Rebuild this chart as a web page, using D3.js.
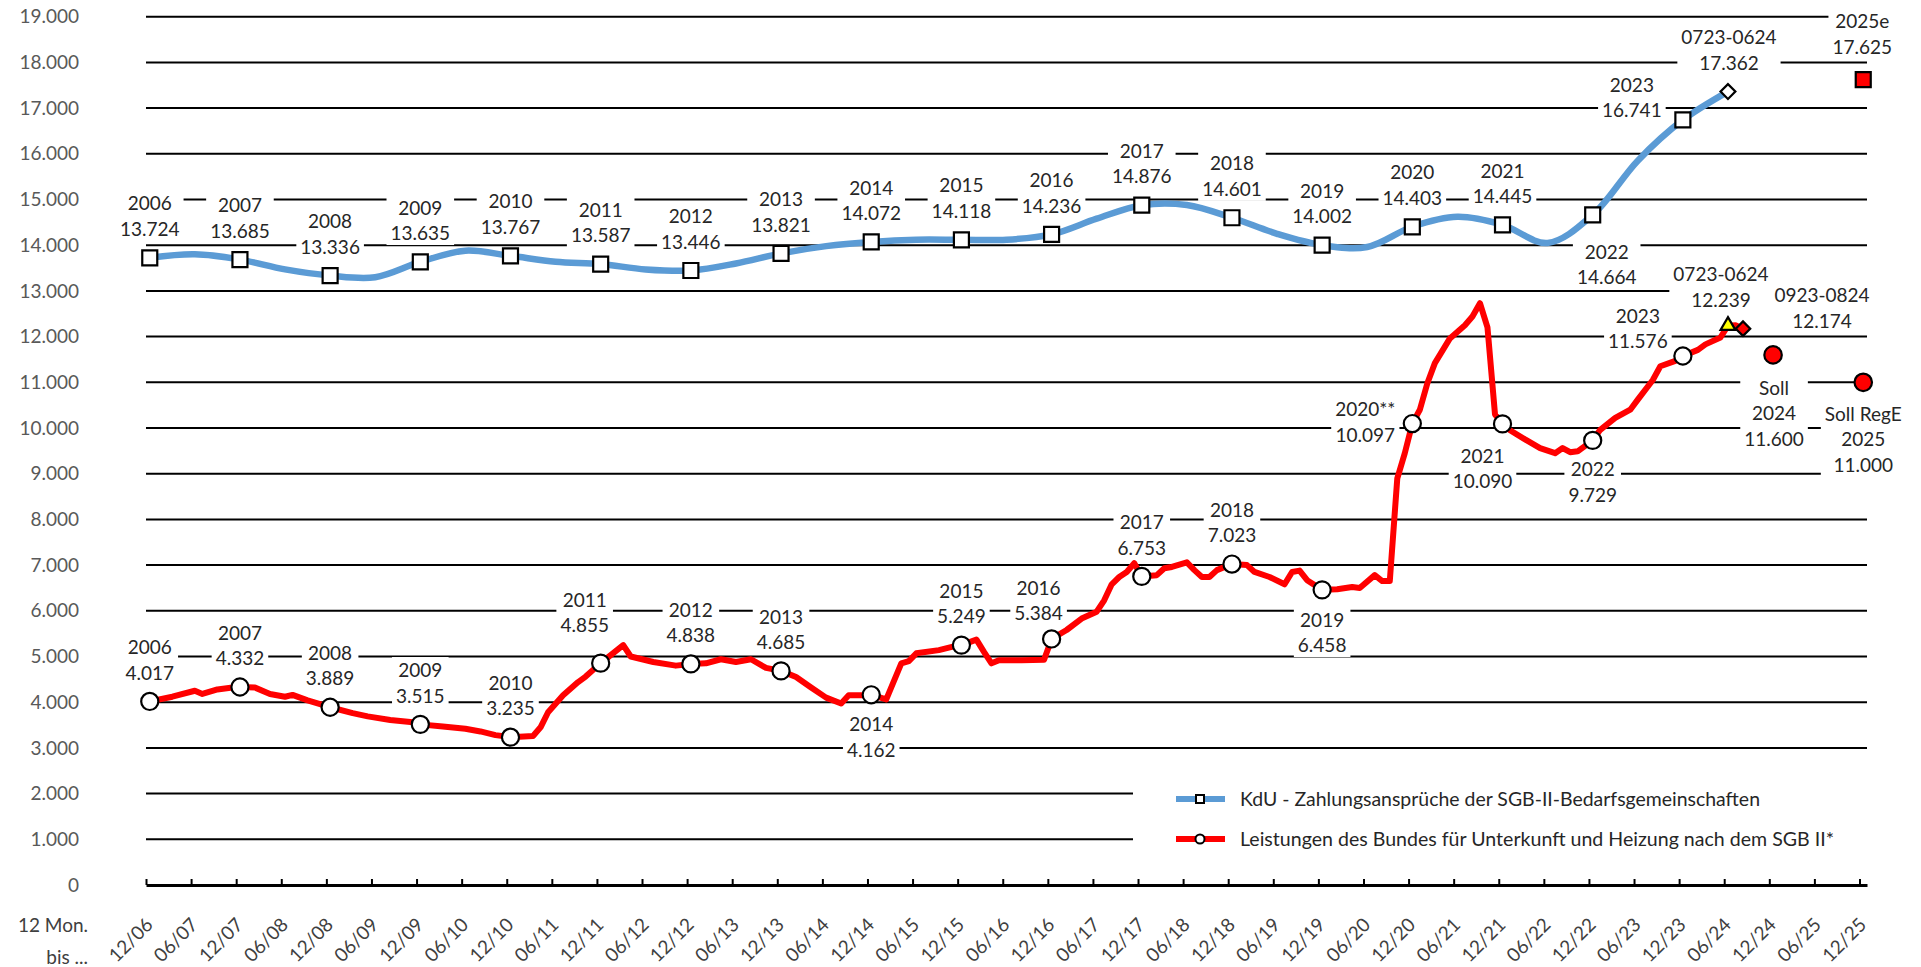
<!DOCTYPE html>
<html>
<head>
<meta charset="utf-8">
<title>KdU und Bundesbeteiligung SGB II</title>
<script src="https://cdn.jsdelivr.net/npm/d3@7/dist/d3.min.js"></script>
<style>
  body { margin: 0; background: #fff; }
  svg { display: block; font-family: Lato, "Open Sans", sans-serif; }
</style>
</head>
<body>
<svg id="chart" width="1921" height="967"></svg>
<script>
// ---- data (Mio. EUR, 12 Monate bis ...) ----
var years = [2006, 2007, 2008, 2009, 2010, 2011, 2012, 2013, 2014, 2015, 2016, 2017, 2018, 2019, 2020, 2021, 2022, 2023];

// KdU - Zahlungsansprüche, Jahreswerte (Dezember)
var kduYear = [13724, 13685, 13336, 13635, 13767, 13587, 13446, 13821, 14072, 14118, 14236, 14876, 14601, 14002, 14403, 14445, 14664, 16741];
// KdU, Werte jeweils im Juni 2007..2023
var kduJune = [13800, 13470, 13300, 13880, 13640, 13470, 13600, 13980, 14120, 14120, 14580, 14880, 14250, 13960, 14620, 14050, 15850];
var kduLatest = { date: "2024-06", label: "0723-0624", value: 17362 };
var kduForecast = { date: "2025-12", label: "2025e", value: 17625 };

// Leistungen des Bundes, Jahreswerte (Dezember)
var leistYear = [4017, 4332, 3889, 3515, 3235, 4855, 4838, 4685, 4162, 5249, 5384, 6753, 7023, 6458, 10097, 10090, 9729, 11576];
// Leistungen des Bundes, Monatsverlauf
var leistLine = [
  ["2006-12", 4017], ["2007-03", 4120], ["2007-06", 4250], ["2007-07", 4180], ["2007-09", 4280], ["2007-11", 4320],
  ["2007-12", 4332], ["2008-02", 4320], ["2008-04", 4180], ["2008-06", 4120], ["2008-07", 4160], ["2008-09", 4040],
  ["2008-11", 3940], ["2008-12", 3889], ["2009-03", 3760], ["2009-05", 3690], ["2009-08", 3610], ["2009-11", 3560],
  ["2009-12", 3515], ["2010-03", 3470], ["2010-06", 3420], ["2010-08", 3360], ["2010-10", 3280], ["2010-12", 3235],
  ["2011-03", 3260], ["2011-04", 3450], ["2011-05", 3780], ["2011-07", 4150], ["2011-09", 4440], ["2011-10", 4560],
  ["2011-12", 4855], ["2012-03", 5250], ["2012-04", 5000], ["2012-07", 4880], ["2012-10", 4800], ["2012-12", 4838],
  ["2013-02", 4850], ["2013-04", 4940], ["2013-06", 4880], ["2013-08", 4940], ["2013-10", 4750], ["2013-12", 4685],
  ["2014-02", 4550], ["2014-04", 4320], ["2014-06", 4100], ["2014-08", 3970], ["2014-09", 4150], ["2014-11", 4150],
  ["2014-12", 4162], ["2015-02", 4060], ["2015-04", 4850], ["2015-05", 4900], ["2015-06", 5070], ["2015-09", 5140],
  ["2015-11", 5220], ["2015-12", 5249], ["2016-02", 5370], ["2016-03", 5100], ["2016-04", 4850], ["2016-05", 4920],
  ["2016-08", 4920], ["2016-11", 4930], ["2016-12", 5384], ["2017-02", 5580], ["2017-04", 5830], ["2017-06", 5980],
  ["2017-07", 6230], ["2017-08", 6580], ["2017-09", 6740], ["2017-10", 6850], ["2017-11", 7040], ["2017-12", 6753],
  ["2018-02", 6780], ["2018-03", 6930], ["2018-04", 6960], ["2018-06", 7060], ["2018-07", 6890], ["2018-08", 6740],
  ["2018-09", 6740], ["2018-10", 6890], ["2018-12", 7023], ["2019-02", 7000], ["2019-03", 6850], ["2019-05", 6740],
  ["2019-07", 6580], ["2019-08", 6850], ["2019-09", 6880], ["2019-10", 6670], ["2019-12", 6458], ["2020-02", 6470],
  ["2020-04", 6520], ["2020-05", 6500], ["2020-07", 6780], ["2020-08", 6650], ["2020-09", 6650], ["2020-10", 8900],
  ["2020-11", 9450], ["2020-12", 10097], ["2021-01", 10400], ["2021-02", 10980], ["2021-03", 11420], ["2021-05", 11960],
  ["2021-07", 12250], ["2021-08", 12440], ["2021-09", 12730], ["2021-10", 12200], ["2021-11", 10300], ["2021-12", 10090],
  ["2022-01", 9950], ["2022-03", 9750], ["2022-05", 9560], ["2022-07", 9450], ["2022-08", 9560], ["2022-09", 9470],
  ["2022-10", 9490], ["2022-12", 9729], ["2023-01", 9960], ["2023-03", 10220], ["2023-05", 10400], ["2023-06", 10620],
  ["2023-08", 11050], ["2023-09", 11350], ["2023-11", 11470], ["2023-12", 11576], ["2024-02", 11710], ["2024-03", 11830],
  ["2024-05", 11980], ["2024-06", 12239], ["2024-07", 12250], ["2024-08", 12174]
];
var leistLatest = { date: "2024-06", label: "0723-0624", value: 12239 };
var leistRecent = { date: "2024-08", label: "0923-0824", value: 12174 };
var soll2024 = { date: "2024-12", lines: ["Soll", "2024"], value: 11600 };
var soll2025 = { date: "2025-12", lines: ["Soll RegE", "2025"], value: 11000 };

var yTicks = d3.range(0, 19001, 1000);
var legendNames = ["KdU - Zahlungsansprüche der SGB-II-Bedarfsgemeinschaften",
                   "Leistungen des Bundes für Unterkunft und Heizung nach dem SGB II*"];

// label placement (offset of first text line from the marker)
var kduLabelShift = { 2022: [14, 37], 2023: [-51, -35] };
var leistLabelShift = { 2011: [-16, -63], 2014: [0, 30], 2016: [-13, -51], 2019: [0, 30],
                        2020: [-47, -14], 2021: [-20, 32], 2022: [0, 29], 2023: [-45, -40] };

// ---- helpers ----
var de = d3.formatLocale({ decimal: ",", thousands: ".", grouping: [3], currency: ["", " €"] });
var fmt = de.format(",d");

function monthIndex(s) {
  var p = s.split("-");
  return (+p[0] - 2006) * 12 + (+p[1] - 12);
}

var svg = d3.select("#chart");
var left = 146, right = 1867, bottom = 885;

var x = d3.scaleLinear().domain([0, 229]).range([left, right]);
var y = d3.scaleLinear().domain([0, 19000]).range([bottom, 16.7]);
function px(s) { return x(monthIndex(s) + 0.5); }

// gridlines
svg.append("g")
  .selectAll("line")
  .data(yTicks.slice(1))
  .enter()
  .append("line")
  .attr("x1", left).attr("x2", right)
  .attr("y1", d => y(d)).attr("y2", d => y(d))
  .attr("stroke", "#000").attr("stroke-width", 2);

// y axis labels
svg.append("g")
  .attr("fill", "#595959").attr("font-size", 19).attr("text-anchor", "end")
  .selectAll("text")
  .data(yTicks)
  .enter()
  .append("text")
  .attr("x", 79).attr("y", d => y(d)).attr("dy", "0.35em")
  .text(d => fmt(d));

// x axis
var xTicks = d3.range(0, 229, 6);
var xAxis = d3.axisBottom(x)
  .tickValues(xTicks)
  .tickSizeInner(-6).tickSizeOuter(0)
  .tickFormat("");
var gx = svg.append("g").attr("transform", "translate(0," + bottom + ")").call(xAxis);
gx.select(".domain").attr("stroke", "#000").attr("stroke-width", 3);
gx.selectAll(".tick line").attr("stroke", "#000").attr("stroke-width", 2);

svg.append("g")
  .attr("fill", "#404040").attr("font-size", 19).attr("text-anchor", "end")
  .selectAll("text")
  .data(xTicks)
  .enter()
  .append("text")
  .attr("transform", d => "translate(" + (x(d) + 8) + ",926) rotate(-45)")
  .text(d => {
    var mo = (d + 11) % 12 + 1, yr = 2006 + Math.floor((d + 11) / 12);
    return (mo < 10 ? "0" : "") + mo + "/" + String(yr).slice(2);
  });

svg.append("g")
  .attr("fill", "#404040").attr("font-size", 19).attr("text-anchor", "end")
  .selectAll("text")
  .data(["12 Mon.", "bis ..."])
  .enter()
  .append("text")
  .attr("x", 88).attr("y", (d, i) => 925 + i * 32).attr("dy", "0.35em")
  .text(d => d);

// legend
var legend = svg.append("g");
legend.append("rect")
  .attr("x", 1133).attr("y", 776).attr("width", 780).attr("height", 86).attr("fill", "#fff");
[["#5B9BD5", d3.symbolSquare, 64], ["#FF0000", d3.symbolCircle, 64]].forEach(function (s, i) {
  var ly = 799 + i * 40;
  legend.append("line")
    .attr("x1", 1176).attr("x2", 1225).attr("y1", ly).attr("y2", ly)
    .attr("stroke", s[0]).attr("stroke-width", 6);
  legend.append("path")
    .attr("d", d3.symbol().type(s[1]).size(s[2])())
    .attr("transform", "translate(1200," + ly + ")")
    .attr("fill", "#fff").attr("stroke", "#000").attr("stroke-width", 2);
  legend.append("text")
    .attr("x", 1240).attr("y", ly).attr("dy", "0.35em")
    .attr("font-size", 19).attr("fill", "#262626")
    .attr("textLength", i === 0 ? 520 : 594).attr("lengthAdjust", "spacingAndGlyphs")
    .text(legendNames[i]);
});

// KdU line (Dezember + Juni Werte zusammengeführt)
var kduLine = [];
years.forEach(function (yr, i) {
  kduLine.push([yr + "-12", kduYear[i]]);
  if (i < kduJune.length) kduLine.push([(yr + 1) + "-06", kduJune[i]]);
});
kduLine.push([kduLatest.date, kduLatest.value]);

var lineKdu = d3.line()
  .x(d => px(d[0])).y(d => y(d[1]))
  .curve(d3.curveCatmullRom.alpha(0.5));
svg.append("path")
  .datum(kduLine)
  .attr("d", lineKdu)
  .attr("fill", "none").attr("stroke", "#5B9BD5").attr("stroke-width", 6.5)
  .attr("stroke-linejoin", "round");

var lineLeist = d3.line()
  .x(d => px(d[0])).y(d => y(d[1]));
svg.append("path")
  .datum(leistLine)
  .attr("d", lineLeist)
  .attr("fill", "none").attr("stroke", "#FF0000").attr("stroke-width", 6)
  .attr("stroke-linejoin", "round");

// markers
function marker(date, value, type, size, fill, rot) {
  svg.append("path")
    .attr("d", d3.symbol().type(type).size(size)())
    .attr("transform", "translate(" + px(date) + "," + y(value) + ")" + (rot ? " rotate(" + rot + ")" : ""))
    .attr("fill", fill).attr("stroke", "#000").attr("stroke-width", 2.2);
}

years.forEach(function (yr, i) {
  marker(yr + "-12", kduYear[i], d3.symbolSquare, 225, "#fff");
  marker(yr + "-12", leistYear[i], d3.symbolCircle, 230, "#fff");
});
marker(kduLatest.date, kduLatest.value, d3.symbolSquare, 110, "#fff", 45);
marker(kduForecast.date, kduForecast.value, d3.symbolSquare, 225, "#FF0000");
marker(leistLatest.date, leistLatest.value, d3.symbolTriangle, 95, "#FFFF00");
marker(leistRecent.date, leistRecent.value, d3.symbolSquare, 105, "#FF0000", 45);
marker(soll2024.date, soll2024.value, d3.symbolCircle, 240, "#FF0000");
marker(soll2025.date, soll2025.value, d3.symbolCircle, 240, "#FF0000");

// data labels with white box
var labels = svg.append("g");
function label(cx, cy, lines) {
  var g = labels.append("g");
  var rect = g.append("rect").attr("fill", "#fff");
  var t = g.append("text")
    .attr("text-anchor", "middle").attr("font-size", 19).attr("fill", "#262626");
  lines.forEach(function (s, i) {
    t.append("tspan").attr("x", cx).attr("y", cy + i * 25.5).attr("dy", "0.35em").text(s);
  });
  var b = t.node().getBBox();
  rect.attr("x", b.x - 4).attr("y", b.y - 1).attr("width", b.width + 8).attr("height", b.height + 2);
}

years.forEach(function (yr, i) {
  var s = kduLabelShift[yr] || [0, -54];
  label(px(yr + "-12") + s[0], y(kduYear[i]) + s[1], [String(yr), fmt(kduYear[i])]);
  var r = leistLabelShift[yr] || [0, -54];
  label(px(yr + "-12") + r[0], y(leistYear[i]) + r[1], [yr === 2020 ? "2020**" : String(yr), fmt(leistYear[i])]);
});
label(px(kduLatest.date) + 1, y(kduLatest.value) - 54, [kduLatest.label, fmt(kduLatest.value)]);
label(px(kduForecast.date) - 1, y(kduForecast.value) - 58, [kduForecast.label, fmt(kduForecast.value)]);
label(px(leistLatest.date) - 7, y(leistLatest.value) - 51, [leistLatest.label, fmt(leistLatest.value)]);
label(px(leistRecent.date) + 79, y(leistRecent.value) - 33, [leistRecent.label, fmt(leistRecent.value)]);
label(px(soll2024.date) + 1, y(soll2024.value) + 33, soll2024.lines.concat([fmt(soll2024.value)]));
label(px(soll2025.date), y(soll2025.value) + 32, soll2025.lines.concat([fmt(soll2025.value)]));
</script>
</body>
</html>
